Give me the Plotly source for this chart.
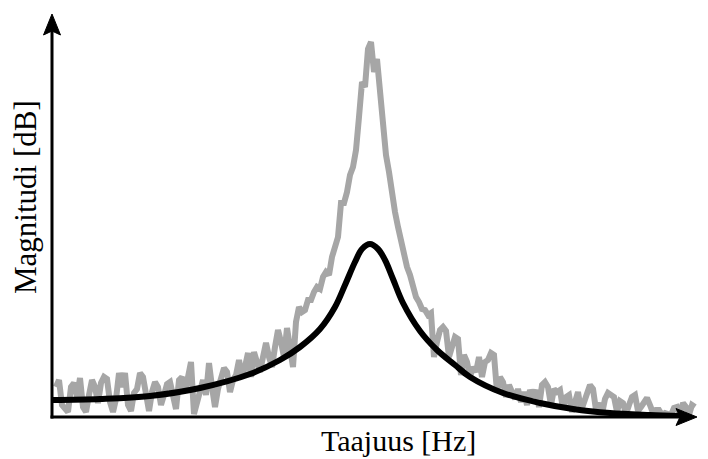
import plotly.graph_objects as go

# Measured (noisy) magnitude spectrum, evenly spaced frequency bins
measured_mag = [
    30, 37, 12, 8, 5, 30, 34, 20, 39, 10, 5, 22, 37, 30, 14, 34, 40, 38, 15, 5,
    18, 44, 30, 44, 12, 6, 24, 28, 44, 40, 20, 6, 25, 35, 30, 12, 22, 33, 35, 18,
    8, 37, 40, 25, 45, 55, 3, 15, 30, 37, 22, 54, 30, 10, 28, 40, 49, 45, 25, 37,
    42, 57, 40, 50, 64, 40, 65, 55, 45, 60, 74, 60, 50, 70, 87, 75, 60, 89, 70, 50,
    95, 110, 105, 107, 117, 117, 125, 130, 128, 140, 145, 142, 160, 172, 180, 214, 214, 225, 242, 250,
    267, 300, 335, 330, 368, 375, 345, 358, 325, 295, 262, 245, 222, 205, 190, 176, 165, 150, 142, 130,
    120, 115, 108, 107, 102, 104, 60, 75, 87, 90, 86, 60, 72, 80, 78, 42, 62, 55, 40, 50,
    45, 60, 40, 55, 57, 64, 62, 25, 40, 35, 20, 32, 25, 18, 28, 15, 25, 12, 27, 20,
    27, 10, 32, 35, 30, 12, 28, 25, 27, 8, 20, 22, 5, 18, 25, 6, 15, 20, 32, 28,
    7, 14, 3, 18, 24, 22, 20, 5, 16, 14, 3, 12, 20, 22, 6, 10, 15, 19, 12, 4,
    7, 7, 2, 4, 3, 2, 9, 10, 3, 14, 10, 2, 12, 10,
]
measured_start = 4
measured_step = 3
measured_freq = [measured_start + measured_step * i for i in range(len(measured_mag))]

# Fitted (smooth) model curve
model_freq = [0, 48, 98, 148, 198, 228, 248, 268, 283, 293, 303, 310, 318, 326, 333,
              341, 351, 368, 385, 403, 418, 451, 488, 521, 558, 598, 628]
model_mag = [17, 18, 21, 29, 43, 57, 70, 88, 110, 132, 155, 168, 173, 168, 157,
             138, 114, 86, 67, 52, 40, 24, 14, 8, 4, 2, 1]

x_max = 645
y_max = 403
x_label = "Taajuus [Hz]"
y_label = "Magnitudi [dB]"

fig = go.Figure()
fig.add_trace(go.Scatter(
    x=measured_freq, y=measured_mag, mode="lines",
    line=dict(color="#a6a6a6", width=6), hoverinfo="skip", showlegend=False,
))
fig.add_trace(go.Scatter(
    x=model_freq, y=model_mag, mode="lines",
    line=dict(color="black", width=6, shape="spline", smoothing=1.0),
    hoverinfo="skip", showlegend=False,
))

# axis decoration in paper coordinates (1 paper unit = plot width / height)
px_x = 1.0 / x_max
px_y = 1.0 / y_max
ah_len, ah_half, ah_notch = 21, 8.5, 4


def arrow_right(xt, yt):
    return (f"M {xt},{yt} L {xt - ah_len * px_x},{yt + ah_half * px_y} "
            f"L {xt - (ah_len - ah_notch) * px_x},{yt} "
            f"L {xt - ah_len * px_x},{yt - ah_half * px_y} Z")


def arrow_up(xt, yt):
    return (f"M {xt},{yt} L {xt - ah_half * px_x},{yt - ah_len * px_y} "
            f"L {xt},{yt - (ah_len - ah_notch) * px_y} "
            f"L {xt + ah_half * px_x},{yt - ah_len * px_y} Z")


axis_common = dict(showgrid=False, zeroline=False, showticklabels=False,
                   ticks="", showline=False, fixedrange=True)
fig.update_layout(
    width=708, height=459,
    margin=dict(l=52, r=11, t=14, b=42),
    paper_bgcolor="white", plot_bgcolor="white",
    xaxis=dict(range=[0, x_max], **axis_common),
    yaxis=dict(range=[0, y_max], **axis_common),
    font=dict(family="Liberation Serif", color="black"),
    shapes=[
        dict(type="line", xref="paper", yref="paper", x0=-1.5 * px_x, y0=0,
             x1=1 - 15 * px_x, y1=0, line=dict(color="black", width=3), layer="above"),
        dict(type="line", xref="paper", yref="paper", x0=0, y0=-1.5 * px_y,
             x1=0, y1=1 - 15 * px_y, line=dict(color="black", width=3), layer="above"),
        dict(type="path", xref="paper", yref="paper", path=arrow_right(1, 0),
             fillcolor="black", line=dict(color="black", width=1), layer="above"),
        dict(type="path", xref="paper", yref="paper", path=arrow_up(0, 1),
             fillcolor="black", line=dict(color="black", width=1), layer="above"),
    ],
    annotations=[
        dict(x=(398 - 52) / 645, y=(417 - 440) / 403, xref="paper", yref="paper",
             text=x_label, showarrow=False, xanchor="center", yanchor="middle",
             font=dict(family="Liberation Serif", size=30, color="black")),
        dict(x=(26 - 52) / 645, y=(417 - 197) / 403, xref="paper", yref="paper",
             text=y_label, showarrow=False, textangle=-90, xanchor="center", yanchor="middle",
             font=dict(family="Liberation Serif", size=31, color="black")),
    ],
)

fig.write_html("out.html")
